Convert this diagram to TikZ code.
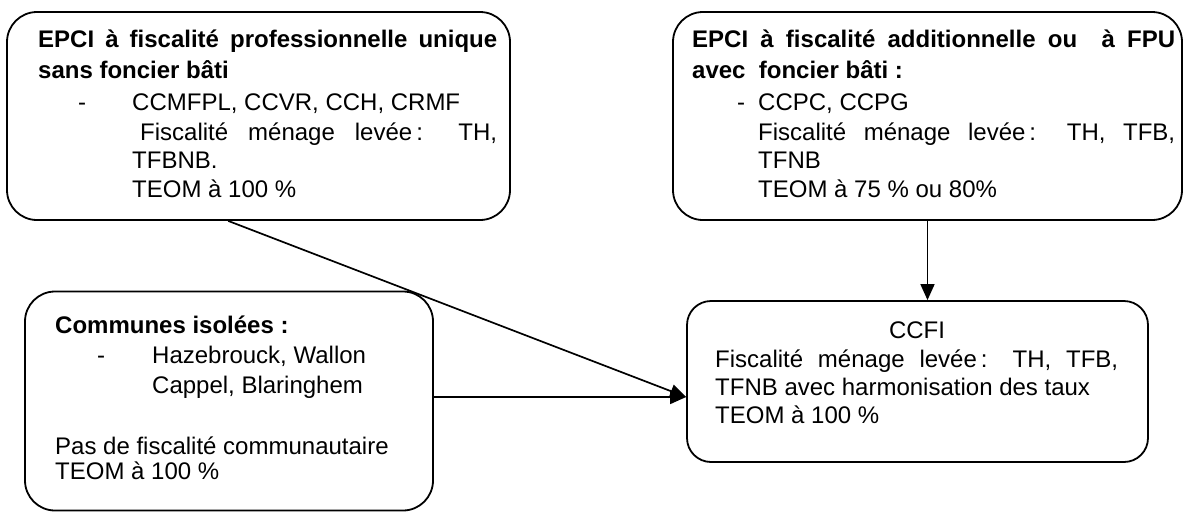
\documentclass[tikz,border=0pt]{standalone}
\usepackage{fontspec}
\setmainfont{Liberation Sans}
\usetikzlibrary{arrows.meta,calc}
\begin{document}
\begin{tikzpicture}[x=1pt,y=-1pt,
  box/.style={draw,line width=1.8pt,rounded corners=30pt,inner sep=0pt},
  txt/.style={anchor=base west,inner sep=0pt,font=\fontsize{24}{29}\selectfont},
  btxt/.style={txt,font=\fontsize{24}{29}\selectfont\bfseries},
  conn/.style={line width=1.7pt,-{Triangle[length=16pt,width=14pt]}}]
\useasboundingbox (0,0) rectangle (1192,512);
% boxes
\node[box,minimum width=503pt,minimum height=208pt] (A) at (258.5,116) {};
\node[box,minimum width=509pt,minimum height=208pt] (B) at (927.5,116) {};
\node[box,minimum width=408pt,minimum height=219pt] (C) at (229,401) {};
\node[box,rounded corners=24pt,minimum width=461pt,minimum height=161pt] (D) at (917.5,381.5) {};
% box A text
\node[btxt] (a1) at (38,47) {\makebox[459pt][s]{EPCI à fiscalité professionnelle unique}};
\node[btxt] (a2) at (38,78) {sans foncier bâti};
\node[txt] (a3) at (78,110) {-};
\node[txt] (a4) at (132,110) {CCMFPL, CCVR, CCH, CRMF};
\node[txt] (a5) at (140,140) {\makebox[357pt][s]{Fiscalité ménage levée\,: TH,}};
\node[txt] (a6) at (132,168) {TFBNB.};
\node[txt] (a7) at (132,197) {TEOM à 100 \%};
% box B text
\node[btxt] (b1) at (692,47) {\makebox[483pt][s]{EPCI à fiscalité additionnelle ou \ à FPU}};
\node[btxt] (b2) at (692,78) {avec \ foncier bâti :};
\node[txt] (b3) at (737,110) {-};
\node[txt] (b4) at (758,110) {CCPC, CCPG};
\node[txt] (b5) at (758,140) {\makebox[417pt][s]{Fiscalité ménage levée\,: TH, TFB,}};
\node[txt] (b6) at (758,168) {TFNB};
\node[txt] (b7) at (758,197) {TEOM à 75 \% ou 80\%};
% box C text
\node[btxt] (c1) at (55,333) {Communes isolées :};
\node[txt] (c2) at (97,363) {-};
\node[txt] (c3) at (152,363) {Hazebrouck, Wallon};
\node[txt] (c4) at (152,393) {Cappel, Blaringhem};
\node[txt] (c5) at (55,454) {Pas de fiscalité communautaire};
\node[txt] (c6) at (55,479) {TEOM à 100 \%};
% box D text
\node[txt,anchor=base] (d1) at (917,338) {CCFI};
\node[txt] (d2) at (715,367) {\makebox[403pt][s]{Fiscalité ménage levée\,: TH, TFB,}};
\node[txt] (d3) at (715,395) {TFNB avec harmonisation des taux};
\node[txt] (d4) at (715,423) {TEOM à 100 \%};
% connectors
\coordinate (tip) at ([yshift=-15.5pt]D.west);
\coordinate (dstart) at ($(A.south west)!0.44!(A.south east)$);
\draw[conn] (dstart) -- (tip);
\draw[conn] (C.east |- tip) -- (tip);
\draw[conn] (B.south) -- (B.south |- D.north);
\end{tikzpicture}
\end{document}
